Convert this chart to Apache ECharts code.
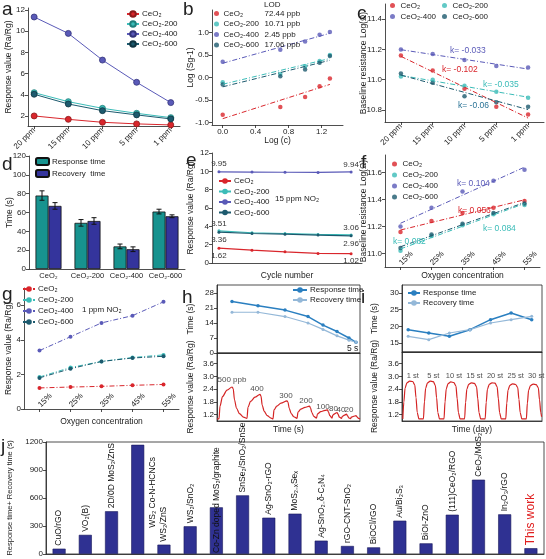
<!DOCTYPE html>
<html>
<head>
<meta charset="utf-8">
<script src="https://cdn.jsdelivr.net/npm/echarts@6/dist/echarts.min.js"></script>
<style>
  html, body { margin: 0; padding: 0; background: #fff; }
  #chart { width: 546px; height: 559px; }
</style>
</head>
<body>
<div id="chart"></div>
<script>
// ---------- data ----------
const concCats = ['20 ppm', '15 ppm', '10 ppm', '5 ppm', '1 ppm'];
const oxyCats = ['15%', '25%', '35%', '45%', '55%'];
const sampleNames = ['CeO₂', 'CeO₂-200', 'CeO₂-400', 'CeO₂-600'];

// a: response value vs NO2 concentration
const aCeO2 = [2.0, 1.68, 1.4, 1.25, 1.15];
const aCeO2_200 = [4.2, 3.35, 2.72, 2.25, 1.84];
const aCeO2_400 = [11.35, 9.8, 7.28, 5.18, 3.26];
const aCeO2_600 = [4.05, 3.13, 2.5, 2.1, 1.72];

// b: log(S-1) vs log(c)
const bLogC = [0, 0.699, 1, 1.176, 1.301];
const bCeO2 = [-0.82, -0.65, -0.43, -0.19, -0.02];
const bCeO2_200 = [-0.1, 0.08, 0.25, 0.37, 0.5];
const bCeO2_400 = [0.35, 0.62, 0.8, 0.95, 1.01];
const bCeO2_600 = [-0.15, 0.03, 0.18, 0.33, 0.48];
const bLOD = ['72.44 ppb', '10.71 ppb', '2.45 ppb', '17.06 ppb'];

// c: baseline resistance vs concentration
const cCeO2 = [11.16, 11.06, 10.94, 10.82, 10.77];
const cCeO2_200 = [11.02, 11.0, 10.96, 10.92, 10.88];
const cCeO2_400 = [11.2, 11.17, 11.13, 11.09, 11.08];
const cCeO2_600 = [11.04, 10.98, 10.89, 10.85, 10.82];

// d: response / recovery time
const dResp = [78, 49, 24, 61];
const dRespErr = [5, 3.5, 2.5, 2.5];
const dRec = [67, 51, 21, 56];
const dRecErr = [3.5, 3.5, 2.5, 1.5];

// e: cycling at 15 ppm NO2
const eCycles = [1, 2, 3, 4, 5];
const eCeO2 = [1.62, 1.4, 1.22, 1.05, 1.02];
const eCeO2_200 = [3.51, 3.3, 3.22, 3.12, 3.06];
const eCeO2_400 = [9.95, 9.92, 9.9, 9.88, 9.94];
const eCeO2_600 = [3.36, 3.22, 3.15, 3.05, 2.96];

// f: baseline resistance vs oxygen
const fCeO2 = [11.16, 11.24, 11.3, 11.34, 11.39];
const fCeO2_200 = [11.02, 11.13, 11.21, 11.29, 11.36];
const fCeO2_400 = [11.2, 11.34, 11.46, 11.54, 11.62];
const fCeO2_600 = [11.04, 11.14, 11.22, 11.3, 11.37];

// g: response vs oxygen at 1 ppm NO2
const gCeO2 = [1.22, 1.27, 1.31, 1.37, 1.42];
const gCeO2_200 = [1.85, 2.4, 2.75, 2.98, 3.13];
const gCeO2_400 = [3.38, 4.18, 4.98, 5.4, 6.2];
const gCeO2_600 = [1.8, 2.33, 2.75, 2.95, 3.05];

// h: low concentration response (time in s)
const hTimes = [150, 410, 680, 910, 1060, 1200, 1320, 1390];
const hResp = [24, 22, 20, 17, 13, 10, 7, 5];
const hRec = [19, 19, 17, 14, 11, 8, 6, 5];
const hCurve = [
  [0, 1.0], [20, 1.0], [30, 1.6], [55, 2.05], [100, 2.35], [150, 2.5], [162, 2.42], [175, 1.9], [195, 1.5], [225, 1.25], [265, 1.08], [300, 1.02],
  [310, 1.55], [335, 1.82], [380, 2.02], [430, 2.15], [440, 2.07], [452, 1.65], [472, 1.35], [502, 1.15], [540, 1.04], [560, 1.0],
  [570, 1.42], [598, 1.6], [640, 1.74], [700, 1.85], [710, 1.78], [722, 1.5], [742, 1.25], [768, 1.1], [800, 1.02],
  [810, 1.32], [838, 1.46], [880, 1.54], [925, 1.6], [935, 1.52], [948, 1.3], [968, 1.12], [995, 1.03],
  [1005, 1.24], [1038, 1.34], [1080, 1.4], [1105, 1.42], [1115, 1.32], [1128, 1.15], [1150, 1.04],
  [1158, 1.18], [1180, 1.25], [1200, 1.3], [1210, 1.22], [1224, 1.08], [1245, 1.02],
  [1253, 1.12], [1275, 1.18], [1295, 1.22], [1305, 1.14], [1320, 1.04], [1335, 1.01],
  [1343, 1.08], [1365, 1.12], [1390, 1.15], [1400, 1.09], [1415, 1.02], [1430, 1.0]
];
const hConcLabels = ['500 ppb', '400', '300', '200', '100', '80', '40', '20'];
const hLabelT = [150, 400, 690, 890, 1060, 1165, 1240, 1320];
const hLabelV = [2.83, 2.42, 2.1, 1.83, 1.58, 1.48, 1.45, 1.42];

// i: long-term stability (day index)
const iDays = [0, 1, 2, 3, 4, 5, 6];
const iResp = [19, 18, 17, 19, 22, 24, 22];
const iRec = [17, 16, 18, 19, 21, 22, 23];
const iCurve = [
  [-0.26, 1.0], [-0.21, 1.8], [-0.15, 2.45], [-0.06, 2.7], [0.07, 2.78], [0.22, 2.76], [0.32, 2.6], [0.38, 2.0], [0.44, 1.3], [0.52, 1.0],
  [0.74, 1.0], [0.79, 1.8], [0.85, 2.45], [0.94, 2.7], [1.07, 2.78], [1.22, 2.75], [1.32, 2.58], [1.38, 2.0], [1.44, 1.3], [1.52, 1.0],
  [1.74, 1.0], [1.79, 1.8], [1.85, 2.42], [1.94, 2.66], [2.07, 2.74], [2.22, 2.71], [2.32, 2.55], [2.38, 1.95], [2.44, 1.3], [2.52, 1.0],
  [2.74, 1.0], [2.79, 1.78], [2.85, 2.4], [2.94, 2.63], [3.07, 2.7], [3.22, 2.67], [3.32, 2.52], [3.38, 1.95], [3.44, 1.3], [3.52, 1.0],
  [3.74, 1.0], [3.79, 1.78], [3.85, 2.4], [3.94, 2.63], [4.07, 2.7], [4.22, 2.68], [4.32, 2.52], [4.38, 1.95], [4.44, 1.3], [4.52, 1.0],
  [4.74, 1.0], [4.79, 1.75], [4.85, 2.36], [4.94, 2.58], [5.07, 2.65], [5.22, 2.62], [5.32, 2.48], [5.38, 1.92], [5.44, 1.3], [5.52, 1.0],
  [5.74, 1.0], [5.79, 1.75], [5.85, 2.35], [5.94, 2.57], [6.07, 2.64], [6.22, 2.61], [6.32, 2.47], [6.38, 1.9], [6.44, 1.3], [6.48, 1.1]
];
const iDayLabels = ['1 st', '5 st', '10 st', '15 st', '20 st', '25 st', '30 st'];

// j: comparison with literature
const jNames = ['CuO/rGO', 'VO₂(B)', '2D/0D MoS₂/ZnS', 'WS₂ Co-N-HCNCs', 'WS₂/ZnS', 'WS₂/SnO₂',
  'Co-Zn doped MoS₂/graphite', 'SnSe₂/SnO₂/SnSe', 'Ag-SnO₂-rGO', 'MoS₂₋ₓSeₓ', 'Ag-SnO₂₋δ-C₃N₄',
  'rGO-CNT-SnO₂', 'BiOCl/rGO', 'Au/Bi₂S₃', 'BiOI-ZnO', '(111)CeO₂/RGO', 'CeO₂/MoS₂', 'In₂O₃/rGO', 'This work'];
const jValues = [57, 205, 458, 1170, 100, 297, 500, 628, 389, 432, 143, 86, 71, 357, 114, 421, 796, 425, 62];

// ---------- styles ----------
const FONT = 'Liberation Sans, Arial, sans-serif';
const INK = '#222';
const FS = 8;
const colors = ['#d9262c', '#3bbcb8', '#5a5ab8', '#1d5a6e'];
const darker = ['#8b1a1a', '#1f7f7b', '#33337a', '#0f3340'];
const DASHDOT = [5, 2, 1, 2];
const RESP_C = '#2a7fc0';
const REC_C = '#94b8d8';

// zero-width tags keep each panel's legend entries separate
function tag(name, k) {
  return name + '\u200b'.repeat(k);
}

function axis(o) {
  const a = {
    axisLine: { show: true, onZero: false, lineStyle: { color: INK, width: 0.8 } },
    axisTick: { show: true, length: 3, lineStyle: { color: INK, width: 0.8 } },
    axisLabel: { color: INK, fontSize: FS, fontFamily: FONT, margin: 3 },
    splitLine: { show: false },
    nameLocation: 'middle',
    nameMoveOverlap: false,
    nameTextStyle: { color: INK, fontSize: 8.5, fontFamily: FONT }
  };
  for (const k in o) {
    if (a[k] && typeof o[k] === 'object' && !Array.isArray(o[k])) a[k] = Object.assign({}, a[k], o[k]);
    else a[k] = o[k];
  }
  return a;
}

function legend(o) {
  return Object.assign({
    orient: 'vertical', padding: 0, itemGap: 1, itemWidth: 12, itemHeight: 7,
    textStyle: { fontSize: FS, fontFamily: FONT, color: INK, padding: [0, 0, 0, -2] },
    selectedMode: false
  }, o);
}

function fitLine(xs, ys) {
  const n = xs.length;
  const mx = xs.reduce((s, v) => s + v, 0) / n;
  const my = ys.reduce((s, v) => s + v, 0) / n;
  let sxy = 0, sxx = 0;
  for (let i = 0; i < n; i++) {
    sxy += (xs[i] - mx) * (ys[i] - my);
    sxx += (xs[i] - mx) * (xs[i] - mx);
  }
  const k = sxy / sxx, b0 = my - k * mx;
  return [[xs[0], b0 + k * xs[0]], [xs[n - 1], b0 + k * xs[n - 1]]];
}

function errRender(offset) {
  return function (params, api) {
    const x = api.value(0), y = api.value(1), e = api.value(2);
    const hi = api.coord([x, y + e]);
    const lo = api.coord([x, y - e]);
    const cx = hi[0] + offset;
    const style = { stroke: '#111', lineWidth: 1 };
    return {
      type: 'group',
      children: [
        { type: 'line', shape: { x1: cx, y1: hi[1], x2: cx, y2: lo[1] }, style: style },
        { type: 'line', shape: { x1: cx - 2.5, y1: hi[1], x2: cx + 2.5, y2: hi[1] }, style: style },
        { type: 'line', shape: { x1: cx - 2.5, y1: lo[1], x2: cx + 2.5, y2: lo[1] }, style: style }
      ]
    };
  };
}

const idx5 = concCats.map((_, i) => i);
const series = [];

// a
[aCeO2, aCeO2_200, aCeO2_400, aCeO2_600].forEach((arr, s) => {
  series.push({
    name: tag(sampleNames[s], 1), type: 'line', xAxisIndex: 0, yAxisIndex: 0,
    data: arr.map((v, i) => [i, v]),
    symbol: 'circle', symbolSize: 6,
    lineStyle: { color: colors[s], width: 1 },
    itemStyle: { color: colors[s], borderColor: darker[s], borderWidth: 0.8 }
  });
});

// b
[bCeO2, bCeO2_200, bCeO2_400, bCeO2_600].forEach((arr, s) => {
  series.push({
    name: tag(sampleNames[s], 2), type: 'scatter', xAxisIndex: 1, yAxisIndex: 1,
    data: arr.map((v, i) => [bLogC[i], v]),
    symbol: 'circle', symbolSize: 4.5, itemStyle: { color: colors[s] }
  });
  series.push({
    type: 'line', xAxisIndex: 1, yAxisIndex: 1, data: fitLine(bLogC, arr),
    symbol: 'none', lineStyle: { color: colors[s], width: 1, type: DASHDOT }
  });
});

// c
[cCeO2, cCeO2_200, cCeO2_400, cCeO2_600].forEach((arr, s) => {
  series.push({
    name: tag(sampleNames[s], 3), type: 'scatter', xAxisIndex: 2, yAxisIndex: 2,
    data: arr.map((v, i) => [i, v]),
    symbol: 'circle', symbolSize: 4.5, itemStyle: { color: colors[s] }
  });
  series.push({
    type: 'line', xAxisIndex: 2, yAxisIndex: 2, data: fitLine(idx5, arr),
    symbol: 'none', lineStyle: { color: colors[s], width: 1, type: DASHDOT }
  });
});

// d
series.push({
  name: tag('Response time', 7), type: 'bar', xAxisIndex: 3, yAxisIndex: 3, data: dResp,
  barWidth: 13, barGap: '0%', itemStyle: { color: '#17938f', borderColor: '#111', borderWidth: 0.8 }
});
series.push({
  name: tag('Recovery  time', 7), type: 'bar', xAxisIndex: 3, yAxisIndex: 3, data: dRec,
  barWidth: 13, barGap: '0%', itemStyle: { color: '#34349c', borderColor: '#111', borderWidth: 0.8 }
});
series.push({
  type: 'custom', xAxisIndex: 3, yAxisIndex: 3, z: 5, renderItem: errRender(-6.5),
  encode: { x: 0, y: 1 }, data: dResp.map((v, i) => [i, v, dRespErr[i]])
});
series.push({
  type: 'custom', xAxisIndex: 3, yAxisIndex: 3, z: 5, renderItem: errRender(6.5),
  encode: { x: 0, y: 1 }, data: dRec.map((v, i) => [i, v, dRecErr[i]])
});

// e
const eLabelPos = ['bottom', 'top', 'top', 'bottom'];
[eCeO2, eCeO2_200, eCeO2_400, eCeO2_600].forEach((arr, s) => {
  series.push({
    name: tag(sampleNames[s], 4), type: 'line', xAxisIndex: 4, yAxisIndex: 4,
    data: arr.map((v, i) => [eCycles[i], v]),
    symbol: 'circle', symbolSize: 3,
    lineStyle: { color: colors[s], width: 1.2 }, itemStyle: { color: colors[s] },
    label: {
      show: true, position: eLabelPos[s], distance: 2, fontSize: FS, fontFamily: FONT, color: '#333',
      formatter: (p) => (p.dataIndex === 0 || p.dataIndex === arr.length - 1 ? p.value[1].toFixed(2) : '')
    }
  });
});

// f
[fCeO2, fCeO2_200, fCeO2_400, fCeO2_600].forEach((arr, s) => {
  series.push({
    name: tag(sampleNames[s], 5), type: 'scatter', xAxisIndex: 5, yAxisIndex: 5,
    data: arr.map((v, i) => [i, v]),
    symbol: 'circle', symbolSize: 4.5, itemStyle: { color: colors[s] }
  });
  series.push({
    type: 'line', xAxisIndex: 5, yAxisIndex: 5, data: fitLine(idx5, arr),
    symbol: 'none', lineStyle: { color: colors[s], width: 1, type: DASHDOT }
  });
});

// g
[gCeO2, gCeO2_200, gCeO2_400, gCeO2_600].forEach((arr, s) => {
  series.push({
    name: tag(sampleNames[s], 6), type: 'line', xAxisIndex: 6, yAxisIndex: 6,
    data: arr.map((v, i) => [i, v]),
    symbol: 'circle', symbolSize: 4,
    lineStyle: { color: colors[s], width: 1, type: DASHDOT }, itemStyle: { color: colors[s] }
  });
});

// h
series.push({
  name: tag('Response time', 8), type: 'line', xAxisIndex: 7, yAxisIndex: 7,
  data: hResp.map((v, i) => [hTimes[i], v]), symbol: 'circle', symbolSize: 3.5,
  lineStyle: { color: RESP_C, width: 1.5 }, itemStyle: { color: RESP_C }
});
series.push({
  name: tag('Recovery time', 8), type: 'line', xAxisIndex: 7, yAxisIndex: 7,
  data: hRec.map((v, i) => [hTimes[i], v]), symbol: 'circle', symbolSize: 3,
  lineStyle: { color: REC_C, width: 1.2 }, itemStyle: { color: REC_C }
});
series.push({
  type: 'line', xAxisIndex: 8, yAxisIndex: 8, data: hCurve, symbol: 'none',
  smooth: 0.3, smoothMonotone: 'x', lineStyle: { color: '#d42424', width: 1.2 }
});
series.push({
  type: 'scatter', xAxisIndex: 8, yAxisIndex: 8, symbolSize: 1, itemStyle: { color: 'transparent' },
  data: hConcLabels.map((t, i) => [hLabelT[i], hLabelV[i], t]),
  label: { show: true, position: 'inside', fontSize: FS, fontFamily: FONT, color: '#222', formatter: (p) => p.value[2] }
});

// i
series.push({
  name: tag('Response time', 9), type: 'line', xAxisIndex: 9, yAxisIndex: 9,
  data: iResp.map((v, i) => [iDays[i], v]), symbol: 'circle', symbolSize: 3.5,
  lineStyle: { color: RESP_C, width: 1.5 }, itemStyle: { color: RESP_C }
});
series.push({
  name: tag('Recovery time', 9), type: 'line', xAxisIndex: 9, yAxisIndex: 9,
  data: iRec.map((v, i) => [iDays[i], v]), symbol: 'circle', symbolSize: 3,
  lineStyle: { color: REC_C, width: 1.2 }, itemStyle: { color: REC_C }
});
series.push({
  type: 'line', xAxisIndex: 10, yAxisIndex: 10, data: iCurve, symbol: 'none',
  smooth: 0.3, smoothMonotone: 'x', lineStyle: { color: '#d42424', width: 1.2 }
});
series.push({
  type: 'scatter', xAxisIndex: 10, yAxisIndex: 10, symbolSize: 1, itemStyle: { color: 'transparent' },
  data: iDayLabels.map((t, i) => [iDays[i] + 0.22, 3.02, t]),
  label: { show: true, position: 'inside', fontSize: 7.5, fontFamily: FONT, color: '#222', formatter: (p) => p.value[2] }
});

// j
const jLabel = {
  show: true, position: 'top', rotate: 90, align: 'left', verticalAlign: 'middle', distance: 3,
  fontSize: 8.5, fontFamily: FONT, color: '#111', formatter: '{b}'
};
series.push({
  type: 'bar', xAxisIndex: 11, yAxisIndex: 11, barWidth: 13,
  itemStyle: { color: '#2f3192', borderColor: '#1a1a5a', borderWidth: 0.6 },
  label: jLabel,
  data: jValues.map((v, i) => {
    const item = { value: v };
    if (jNames[i] === 'WS₂ Co-N-HCNCs') item.label = { position: ['165%', '76%'], distance: 0 };
    if (jNames[i] === 'Co-Zn doped MoS₂/graphite') item.label = { position: 'insideBottom', distance: 1 };
    if (jNames[i] === 'This work') item.label = { color: '#e02020', fontSize: 12 };
    return item;
  })
});

// ---------- grids & axes ----------
const boxes = [
  [28, 8, 152, 118], [212, 10, 131, 115], [385, 4, 159, 118],
  [29, 156, 156, 113], [212, 153, 150, 110], [385, 155, 155, 112],
  [24, 288, 155, 121], [217, 285, 143, 68], [217, 353, 143, 68],
  [402, 285, 140, 67], [402, 352, 140, 69], [46, 442, 498, 112]
];
const framed = [7, 8, 9, 10, 11];
const grid = boxes.map((b, i) => ({
  left: b[0], top: b[1], width: b[2], height: b[3], outerBoundsMode: 'none',
  show: framed.includes(i), borderColor: INK, borderWidth: 0.8, backgroundColor: 'transparent'
}));

const fix1 = (v) => v.toFixed(1);
const hidden = { axisLabel: { show: false }, axisTick: { show: false } };

const xAxis = [
  axis({ type: 'value', gridIndex: 0, min: -0.18, max: 4.27,
    axisLabel: { customValues: idx5, rotate: 45, formatter: (v) => concCats[Math.round(v)] },
    axisTick: { customValues: idx5 } }),
  axis({ type: 'value', gridIndex: 1, min: -0.13, max: 1.46, name: 'Log (c)', nameGap: 11,
    axisLabel: { customValues: [0, 0.4, 0.8, 1.2], formatter: fix1 }, axisTick: { customValues: [0, 0.4, 0.8, 1.2] } }),
  axis({ type: 'category', gridIndex: 2, data: concCats, axisLabel: { rotate: 45, interval: 0 }, axisTick: { alignWithLabel: true } }),
  axis({ type: 'category', gridIndex: 3, data: sampleNames, axisLabel: { interval: 0, fontSize: 7.5 }, axisTick: { show: false } }),
  axis(Object.assign({ type: 'value', gridIndex: 4, min: 0.79, max: 5.33, name: 'Cycle number', nameGap: 8 }, hidden)),
  axis({ type: 'category', gridIndex: 5, data: oxyCats, name: 'Oxygen concentration', nameGap: 4,
    axisLabel: { rotate: 45, inside: true, interval: 0 }, axisTick: { alignWithLabel: true } }),
  axis({ type: 'category', gridIndex: 6, data: oxyCats, name: 'Oxygen concentration', nameGap: 8,
    axisLabel: { rotate: 45, inside: true, interval: 0 }, axisTick: { alignWithLabel: true } }),
  axis(Object.assign({ type: 'value', gridIndex: 7, min: 0, max: 1430 }, hidden)),
  axis(Object.assign({ type: 'value', gridIndex: 8, min: 0, max: 1430, name: 'Time (s)', nameGap: 4 }, hidden)),
  axis(Object.assign({ type: 'value', gridIndex: 9, min: -0.3, max: 6.5 }, hidden)),
  axis(Object.assign({ type: 'value', gridIndex: 10, min: -0.3, max: 6.5, name: 'Time (day)', nameGap: 4 }, hidden)),
  axis(Object.assign({ type: 'category', gridIndex: 11, data: jNames }, hidden))
];

const yAxis = [
  axis({ type: 'value', gridIndex: 0, min: 1.05, max: 12.2, name: 'Response value (Ra/Rg)', nameGap: 15,
    axisLabel: { customValues: [2, 4, 6, 8, 10, 12] }, axisTick: { customValues: [2, 4, 6, 8, 10, 12] } }),
  axis({ type: 'value', gridIndex: 1, min: -1.05, max: 1.5, name: 'Log (Sg-1)', nameGap: 17,
    axisLabel: { customValues: [-1, -0.5, 0, 0.5, 1], formatter: fix1 }, axisTick: { customValues: [-1, -0.5, 0, 0.5, 1] } }),
  axis({ type: 'value', gridIndex: 2, min: 10.72, max: 11.5, name: 'Baseline resistance Log(Ω)', nameGap: 17,
    axisLabel: { customValues: [10.8, 11.0, 11.2, 11.4], formatter: fix1 }, axisTick: { customValues: [10.8, 11.0, 11.2, 11.4] } }),
  axis({ type: 'value', gridIndex: 3, min: 0, max: 120, interval: 20, name: 'Time (s)', nameGap: 15 }),
  axis({ type: 'value', gridIndex: 4, min: 0, max: 12, interval: 2, name: 'Response value (Ra/Rg)', nameGap: 17 }),
  axis({ type: 'value', gridIndex: 5, min: 10.9, max: 11.73, name: 'Baseline resistance Log(Ω)', nameGap: 17,
    axisLabel: { customValues: [11.0, 11.2, 11.4, 11.6], formatter: fix1 }, axisTick: { customValues: [11.0, 11.2, 11.4, 11.6] } }),
  axis({ type: 'value', gridIndex: 6, min: 0, max: 7, name: 'Response value (Ra/Rg)', nameGap: 11,
    axisLabel: { customValues: [0, 2, 4, 6] }, axisTick: { customValues: [0, 2, 4, 6] } }),
  axis({ type: 'value', gridIndex: 7, min: 0, max: 31.7, name: 'Time (s)', nameGap: 22,
    axisLabel: { customValues: [0, 7, 14, 21, 28] }, axisTick: { customValues: [0, 7, 14, 21, 28] } }),
  axis({ type: 'value', gridIndex: 8, min: 0.9, max: 4.1, name: 'Response value (Ra/Rg)', nameGap: 22,
    axisLabel: { customValues: [1.2, 1.8, 2.4, 3.0, 3.6], formatter: fix1 }, axisTick: { customValues: [1.2, 1.8, 2.4, 3.0, 3.6] } }),
  axis({ type: 'value', gridIndex: 9, min: 12.3, max: 32.4, name: 'Time (s)', nameGap: 23,
    axisLabel: { customValues: [15, 20, 25, 30] }, axisTick: { customValues: [15, 20, 25, 30] } }),
  axis({ type: 'value', gridIndex: 10, min: 0.9, max: 4.15, name: 'Response value (Ra/Rg)', nameGap: 23,
    axisLabel: { customValues: [1.2, 1.8, 2.4, 3.0, 3.6], formatter: fix1 }, axisTick: { customValues: [1.2, 1.8, 2.4, 3.0, 3.6] } }),
  axis({ type: 'value', gridIndex: 11, min: 0, max: 1200, interval: 300, name: 'Response time+ Recovery time (s)', nameGap: 32,
    axisLabel: { formatter: (v) => String(v) }, nameTextStyle: { fontSize: 7.5 } })
];

// ---------- legends ----------
const bTagged = sampleNames.map((s) => tag(s, 2));
const legends = [
  legend({ left: 126, top: 10, itemGap: 2, data: sampleNames.map((n) => tag(n, 1)) }),
  legend({
    left: 214, top: 9.5, itemWidth: 8, itemHeight: 5, itemGap: 2.5,
    data: bTagged,
    formatter: (name) => '{n|' + name + '}{v|' + bLOD[bTagged.indexOf(name)] + '}',
    textStyle: { fontSize: FS, fontFamily: FONT, color: INK, padding: [0, 0, 0, -2],
      rich: { n: { width: 41, fontSize: FS, fontFamily: FONT, color: INK }, v: { fontSize: FS, fontFamily: FONT, color: INK } } }
  }),
  legend({ left: 390, top: 1.5, itemWidth: 10, itemHeight: 5, itemGap: 3, data: [tag(sampleNames[0], 3), tag(sampleNames[2], 3)] }),
  legend({ left: 442, top: 1.5, itemWidth: 10, itemHeight: 5, itemGap: 3, data: [tag(sampleNames[1], 3), tag(sampleNames[3], 3)] }),
  legend({ left: 35, top: 157, itemWidth: 13, itemHeight: 7, itemGap: 3, data: [tag('Response time', 7), tag('Recovery  time', 7)] }),
  legend({ left: 218, top: 177, itemGap: 2.5, data: sampleNames.map((n) => tag(n, 4)) }),
  legend({ left: 392, top: 160, itemWidth: 10, itemHeight: 5, itemGap: 3, data: sampleNames.map((n) => tag(n, 5)) }),
  legend({ left: 22, top: 285, itemGap: 3, data: sampleNames.map((n) => tag(n, 6)) }),
  legend({ left: 292, top: 286, itemWidth: 14, itemGap: 2, data: [tag('Response time', 8), tag('Recovery time', 8)] }),
  legend({ left: 407, top: 289, itemWidth: 12, itemGap: 2, data: [tag('Response time', 9), tag('Recovery time', 9)] })
];

// ---------- free text ----------
function txt(text, left, top, size, color) {
  return { type: 'text', left: left, top: top, z: 10,
    style: { text: text, fontSize: size, fontFamily: FONT, fill: color || INK } };
}
const graphic = [
  txt('a', 2, 0, 19), txt('b', 183, 0, 19), txt('c', 357, 4, 19),
  txt('d', 2, 155, 19), txt('e', 186, 151, 19), txt('f', 361, 153, 19),
  txt('g', 2, 285, 19), txt('h', 182, 288, 19), txt('i', 361, 288, 19), txt('j', 1, 437, 19),
  txt('LOD', 264, 1, FS),
  txt('k= -0.033', 450, 46, 8.5, colors[2]), txt('k= -0.102', 442, 65, 8.5, colors[0]),
  txt('k= -0.035', 483, 80, 8.5, colors[1]), txt('k= -0.06', 458, 101, 8.5, '#2a7396'),
  txt('k= 0.104', 457, 179, 8.5, colors[2]), txt('k= 0.056', 458, 206, 8.5, colors[0]),
  txt('k= 0.084', 483, 224, 8.5, colors[1]), txt('k= 0.082', 393, 237, 8.5, colors[1]),
  txt('15 ppm NO₂', 275, 195, FS), txt('1 ppm NO₂', 82, 306, FS),
  txt('5 s', 347, 344, 8.5)
];

const chart = echarts.init(document.getElementById('chart'));
chart.setOption({
  backgroundColor: '#fff',
  animation: false,
  textStyle: { fontFamily: FONT },
  grid: grid,
  xAxis: xAxis,
  yAxis: yAxis,
  legend: legends,
  graphic: graphic,
  series: series
});
</script>
</body>
</html>
